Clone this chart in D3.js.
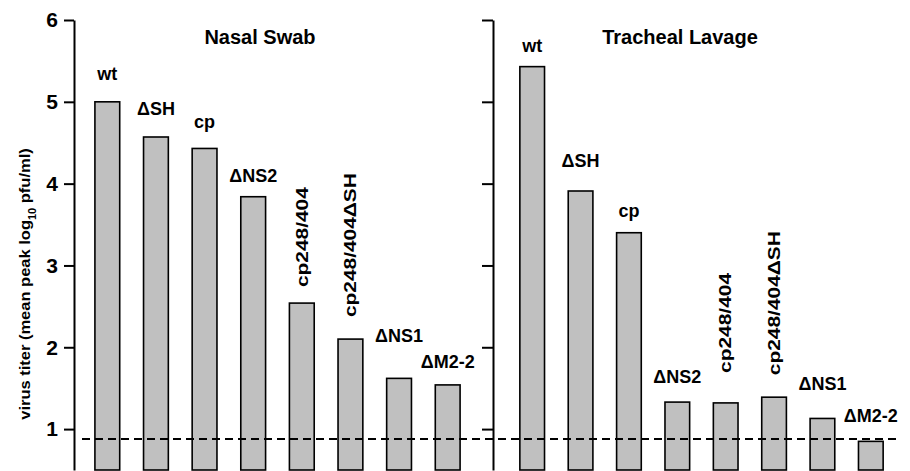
<!DOCTYPE html>
<html>
<head>
<meta charset="utf-8">
<script src="https://cdn.jsdelivr.net/npm/d3@7"></script>
<style>
  body { margin: 0; background: #fff; }
  text { font-family: "Liberation Sans", Arial, Helvetica, sans-serif; font-weight: bold; fill: #000; }
</style>
</head>
<body>
<div id="chart"></div>
<script>
// virus strains (same order in both panels)
var strains = ["wt", "\u0394SH", "cp", "\u0394NS2", "cp248/404", "cp248/404\u0394SH", "\u0394NS1", "\u0394M2-2"];
// which labels are written vertically
var vertical = ["cp248/404", "cp248/404\u0394SH"];
// mean peak titer, log10 pfu/ml
var nasalSwab = [5.0, 4.57, 4.43, 3.84, 2.54, 2.10, 1.62, 1.54];
var trachealLavage = [5.43, 3.91, 3.40, 1.33, 1.32, 1.39, 1.13, 0.85];
var panelTitles = ["Nasal Swab", "Tracheal Lavage"];
var yTicks = [1, 2, 3, 4, 5, 6];
var detectionLimit = 0.88;

// gap (px) between bar top and its label, as placed in the original figure
var labelGapNasal = [22, 22, 20, 15, 16, 22, 36, 17];
var labelGapTracheal = [15, 24, 16, 19, 30, 22, 28, 19];

var width = 910, height = 471;

var svg = d3.select("#chart").append("svg")
    .attr("width", width)
    .attr("height", height);

// y scale, bottom of picture sits at ~0.5
var yScale = d3.scaleLinear()
    .domain([0.5, 6])
    .range([470, 20]);

// one band scale per panel
var xLeft = d3.scaleBand()
    .domain(strains)
    .range([83, 472])
    .paddingInner(0.49)
    .paddingOuter(0.245);

var xRight = d3.scaleBand()
    .domain(strains)
    .range([508, 895])
    .paddingInner(0.49)
    .paddingOuter(0.245);

// left axis with labels
var yAxis = svg.append("g")
    .attr("transform", "translate(74,0)")
    .call(d3.axisLeft(yScale).tickValues(yTicks).tickSize(10).tickSizeOuter(0).tickPadding(6).tickFormat(d3.format("d")));
yAxis.selectAll("path, line").attr("stroke", "#000").attr("stroke-width", 2);
yAxis.selectAll("text")
    .attr("font-family", null)
    .style("font-size", "21px");

// middle axis, ticks only
var yAxis2 = svg.append("g")
    .attr("transform", "translate(493,0)")
    .call(d3.axisLeft(yScale).tickValues(yTicks).tickSize(11).tickSizeOuter(0).tickFormat(""));
yAxis2.selectAll("path, line").attr("stroke", "#000").attr("stroke-width", 2);

// y axis title (original lettering is a bit stretched along its length)
var yTitle = svg.append("text")
    .attr("transform", "translate(30,284) rotate(-90) scale(1.1,1)")
    .attr("text-anchor", "middle")
    .style("font-size", "15px");
yTitle.append("tspan").text("virus titer (mean peak log");
yTitle.append("tspan").attr("baseline-shift", "sub").style("font-size", "10px").text("10");
yTitle.append("tspan").text(" pfu/ml)");

var panels = [
  { x: xLeft, values: nasalSwab, gaps: labelGapNasal, title: panelTitles[0], titleX: 260 },
  { x: xRight, values: trachealLavage, gaps: labelGapTracheal, title: panelTitles[1], titleX: 680 }
];

panels.forEach(function(p) {
  var data = strains.map(function(s, i) { return { name: s, value: p.values[i], gap: p.gaps[i] }; });

  svg.append("text")
      .attr("x", p.titleX)
      .attr("y", 44)
      .attr("text-anchor", "middle")
      .style("font-size", "20px")
      .text(p.title);

  svg.selectAll(null)
      .data(data)
    .enter().append("rect")
      .attr("x", function(d) { return p.x(d.name); })
      .attr("y", function(d) { return yScale(d.value); })
      .attr("width", p.x.bandwidth())
      .attr("height", function(d) { return yScale(0.5) - yScale(d.value); })
      .attr("fill", "#c0c0c0")
      .attr("stroke", "#000")
      .attr("stroke-width", 1.6);

  // bar labels
  svg.selectAll(null)
      .data(data)
    .enter().append("text")
      .style("font-size", function(d) { return vertical.indexOf(d.name) >= 0 ? "17px" : "18px"; })
      .attr("text-anchor", function(d) { return vertical.indexOf(d.name) >= 0 ? "start" : "middle"; })
      .attr("dominant-baseline", function(d) { return vertical.indexOf(d.name) >= 0 ? "central" : "auto"; })
      .attr("transform", function(d) {
        var cx = p.x(d.name) + p.x.bandwidth() / 2;
        var ty = yScale(d.value) - d.gap;
        if (vertical.indexOf(d.name) >= 0) return "translate(" + cx + "," + ty + ") rotate(-90) scale(1.23,1)";
        return "translate(" + cx + "," + ty + ")";
      })
      .text(function(d) { return d.name; });
});

// detection limit
svg.append("line")
    .attr("x1", 82)
    .attr("x2", 898)
    .attr("y1", yScale(detectionLimit))
    .attr("y2", yScale(detectionLimit))
    .attr("stroke", "#000")
    .attr("stroke-width", 2)
    .attr("stroke-dasharray", "8,5");
</script>
</body>
</html>
